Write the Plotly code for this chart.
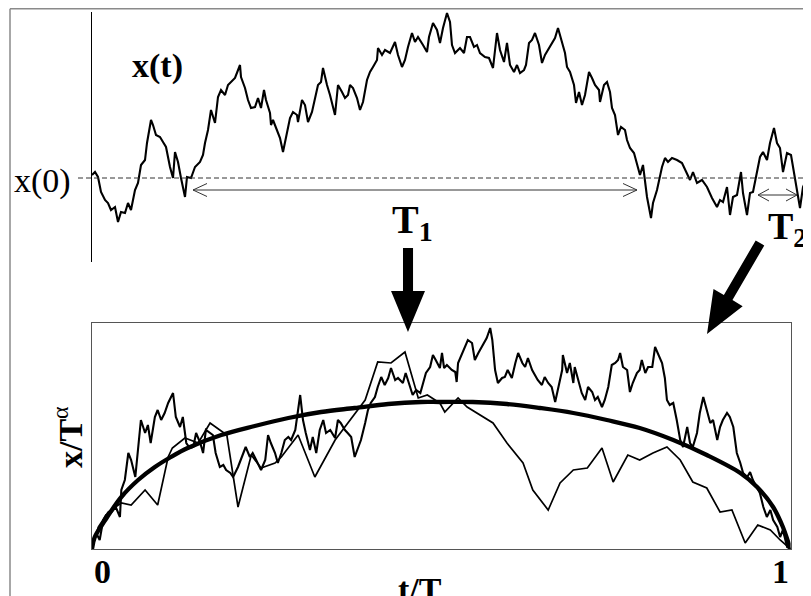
import plotly.graph_objects as go

# the page body adds an 8px margin, so the figure is a bit smaller than the window
OX, OY = 8, 8
W, H = 811 - OX, 596 - OY
FONT = 'Liberation Serif'

# top panel: a single random walk x(t), t in sample steps, x relative to x(0)
top_t = [0, 3, 6, 9, 13, 16, 19, 23, 26, 29, 33, 36, 39, 43, 46, 49, 53, 55, 59, 61,
         64, 68, 71, 74, 78, 81, 83, 86, 89, 93, 95, 99, 103, 108, 111, 113, 116, 119, 123, 126,
         129, 133, 136, 139, 143, 148, 149, 153, 156, 159, 163, 166, 169, 172, 174, 178, 179, 181, 185, 188,
         191, 195, 198, 201, 205, 206, 210, 213, 216, 220, 223, 226, 229, 231, 235, 238, 243, 246, 250, 253,
         256, 258, 261, 265, 268, 271, 275, 278, 281, 285, 286, 290, 293, 298, 303, 306, 310, 313, 316, 320,
         323, 326, 331, 335, 337, 341, 345, 348, 351, 355, 358, 360, 363, 368, 372, 375, 378, 382, 385, 388,
         393, 397, 401, 403, 405, 408, 412, 415, 418, 422, 425, 428, 432, 434, 437, 440, 443, 447, 450, 453,
         457, 460, 463, 466, 469, 473, 475, 478, 482, 484, 487, 490, 493, 497, 500, 503, 507, 508, 512, 515,
         518, 520, 523, 526, 529, 533, 535, 538, 542, 545, 548, 551, 555, 559, 561, 565, 570, 573, 576, 580,
         585, 590, 593, 598, 601, 605, 610, 615, 620, 625, 628, 631, 635, 638, 641, 645, 649, 651, 655, 658,
         661, 665, 668, 671, 675, 678, 682, 685, 688, 691, 695, 699, 703, 708, 711, 715, 719]
top_x = [3, 6, 1, -14, -22, -25, -32, -29, -44, -34, -35, -25, -32, -12, -5, 13, 18, 35, 58, 53,
         43, 41, 36, 31, 11, 0, 26, 16, 0, -19, 1, 0, 11, 16, 23, 35, 48, 68, 55, 81,
         88, 83, 93, 96, 100, 113, 101, 90, 78, 70, 71, 80, 70, 88, 78, 65, 53, 58, 48, 40,
         26, 46, 60, 66, 63, 56, 78, 73, 56, 66, 80, 93, 96, 110, 93, 83, 63, 93, 86, 80,
         83, 93, 90, 80, 68, 76, 98, 106, 111, 118, 130, 123, 128, 125, 136, 123, 111, 118, 131, 145,
         136, 141, 133, 126, 141, 155, 148, 135, 150, 165, 156, 133, 125, 130, 125, 141, 141, 131, 133, 125,
         121, 120, 110, 130, 145, 128, 116, 135, 113, 106, 113, 105, 108, 113, 135, 138, 145, 133, 115, 123,
         130, 136, 140, 150, 140, 125, 111, 106, 93, 75, 86, 73, 83, 106, 100, 93, 88, 76, 93, 96,
         86, 70, 63, 43, 51, 48, 38, 30, 25, 13, 3, 13, -19, -40, -25, -12, 11, 20, 16, 20,
         18, 15, 8, -2, 6, -5, -2, -9, -20, -29, -22, -24, -9, -37, -19, -17, 6, -15, -37, -15,
         -14, 6, 21, 26, 18, 35, 50, 35, 30, 6, 25, 23, 1, -30, -9, 0, 6]

# first-passage intervals marked on the top walk (same units as top_t / top_x)
T1_START, T1_END, T1_LEVEL = 101, 545, -12
T2_START, T2_END, T2_LEVEL = 666, 705, -17

# bottom panel: rescaled excursions against t/T, and the mean shape
shape_t = [0.000, 0.004, 0.019, 0.042, 0.066, 0.090, 0.113, 0.137, 0.185, 0.233, 0.281, 0.328,
           0.376, 0.424, 0.471, 0.498, 0.545, 0.594, 0.641, 0.689, 0.737, 0.784, 0.832, 0.880,
           0.928, 0.952, 0.975, 0.989, 0.996, 1.000]
shape_v = [0, 12, 29, 52, 69, 82, 92, 101, 114, 123, 131, 137,
           141, 145, 147, 147, 147, 145, 141, 136, 129, 121, 109, 94,
           76, 62, 42, 22, 8, 0]

exc1_t = [0.000, 0.006, 0.011, 0.016, 0.020, 0.027, 0.034, 0.040, 0.042, 0.047, 0.052, 0.056, 0.062, 0.066,
          0.070, 0.076, 0.080, 0.084, 0.090, 0.094, 0.099, 0.104, 0.109, 0.116, 0.120, 0.126, 0.130, 0.135,
          0.140, 0.145, 0.149, 0.155, 0.159, 0.163, 0.169, 0.173, 0.177, 0.183, 0.188, 0.192, 0.198, 0.202,
          0.209, 0.213, 0.220, 0.226, 0.230, 0.235, 0.242, 0.248, 0.252, 0.256, 0.262, 0.266, 0.271, 0.276,
          0.281, 0.285, 0.291, 0.298, 0.302, 0.306, 0.312, 0.316, 0.321, 0.326, 0.331, 0.335, 0.341, 0.348,
          0.352, 0.356, 0.362, 0.366, 0.371, 0.376, 0.381, 0.385, 0.391, 0.395, 0.399, 0.405, 0.409, 0.414,
          0.419, 0.424, 0.428, 0.434, 0.438, 0.445, 0.449, 0.455, 0.459, 0.464, 0.470, 0.474, 0.478, 0.484,
          0.488, 0.492, 0.498, 0.501, 0.504, 0.508, 0.515, 0.520, 0.522, 0.524, 0.530, 0.534, 0.538, 0.544,
          0.548, 0.553, 0.558, 0.565, 0.570, 0.573, 0.577, 0.581, 0.587, 0.591, 0.595, 0.601, 0.606, 0.610,
          0.616, 0.620, 0.624, 0.630, 0.634, 0.638, 0.644, 0.648, 0.653, 0.658, 0.663, 0.667, 0.673, 0.674,
          0.680, 0.684, 0.689, 0.691, 0.696, 0.701, 0.706, 0.710, 0.716, 0.720, 0.724, 0.730, 0.734, 0.739,
          0.744, 0.749, 0.753, 0.756, 0.760, 0.766, 0.770, 0.774, 0.780, 0.784, 0.787, 0.792, 0.796, 0.802,
          0.806, 0.810, 0.816, 0.820, 0.823, 0.827, 0.832, 0.837, 0.842, 0.846, 0.852, 0.856, 0.860, 0.866,
          0.870, 0.875, 0.880, 0.885, 0.889, 0.895, 0.899, 0.903, 0.909, 0.913, 0.918, 0.923, 0.928, 0.932,
          0.938, 0.942, 0.946, 0.952, 0.956, 0.961, 0.966, 0.971, 0.975, 0.981, 0.985, 0.989, 0.995, 1.000]
exc1_v = [0, 16, 9, 29, 34, 36, 42, 32, 59, 69, 96, 89, 72, 102,
          129, 116, 124, 106, 132, 139, 129, 136, 146, 156, 132, 122, 132, 106,
          101, 102, 116, 106, 96, 119, 116, 114, 96, 82, 84, 79, 76, 72,
          82, 89, 102, 92, 96, 89, 79, 89, 114, 106, 96, 86, 96, 109,
          112, 109, 119, 154, 129, 116, 99, 112, 96, 119, 129, 116, 119, 111,
          129, 126, 119, 116, 112, 92, 102, 109, 126, 139, 146, 152, 162, 172,
          164, 171, 181, 169, 171, 166, 176, 162, 154, 159, 156, 166, 176, 182,
          194, 189, 181, 196, 181, 184, 179, 177, 167, 186, 196, 202, 209, 206,
          189, 196, 202, 211, 221, 209, 179, 166, 171, 172, 179, 171, 186, 196,
          186, 182, 191, 179, 174, 169, 164, 172, 166, 162, 147, 159, 179, 194,
          176, 186, 166, 182, 169, 156, 149, 162, 157, 149, 152, 142, 149, 162,
          184, 186, 189, 196, 182, 179, 157, 166, 176, 179, 189, 176, 182, 182,
          202, 196, 186, 171, 149, 144, 146, 129, 109, 102, 122, 106, 102, 116,
          136, 152, 139, 126, 129, 109, 122, 129, 136, 132, 122, 96, 86, 76,
          72, 77, 69, 62, 56, 42, 32, 39, 29, 22, 12, 19, 2, 0]

exc2_t = [0.000, 0.009, 0.023, 0.042, 0.056, 0.076, 0.094, 0.109, 0.115, 0.133, 0.152, 0.169, 0.193,
          0.209, 0.228, 0.242, 0.262, 0.271, 0.295, 0.319, 0.348, 0.369, 0.391, 0.409, 0.428, 0.448,
          0.467, 0.480, 0.498, 0.505, 0.524, 0.537, 0.551, 0.574, 0.594, 0.617, 0.631, 0.653, 0.670,
          0.689, 0.709, 0.730, 0.746, 0.767, 0.784, 0.803, 0.823, 0.842, 0.860, 0.880, 0.899, 0.916,
          0.935, 0.953, 0.971, 0.985, 1.000]
exc2_v = [0, 22, 37, 46, 44, 59, 44, 92, 101, 111, 106, 126, 114,
          42, 94, 81, 86, 92, 114, 72, 109, 129, 149, 187, 186, 197,
          151, 154, 146, 137, 151, 142, 136, 126, 106, 86, 59, 39, 66,
          79, 81, 101, 67, 94, 89, 96, 102, 89, 67, 61, 37, 39,
          6, 24, 19, 9, 0]


def pp(x, y):
    """window pixel position -> paper coordinates"""
    return (x - OX) / W, 1 - (y - OY) / H


def poly_path(points):
    coords = []
    for x, y in points:
        px_, py_ = pp(x, y)
        coords.append(f'{px_:.4f},{py_:.4f}')
    return 'M ' + ' L '.join(coords) + ' Z'


def double_arrow(t0, t1, level, head, half):
    return (f'M {t0},{level} L {t1},{level} '
            f'M {t0 + head},{level + half} L {t0},{level} L {t0 + head},{level - half} '
            f'M {t1 - head},{level + half} L {t1},{level} L {t1 - head},{level - half}')


fig = go.Figure()

# top walk
fig.add_trace(go.Scatter(
    x=top_t, y=top_x, mode='lines',
    line=dict(color='black', width=2.1),
    xaxis='x', yaxis='y',
))

# bottom panel curves
fig.add_trace(go.Scatter(
    x=exc2_t, y=exc2_v, mode='lines',
    line=dict(color='black', width=1.7),
    xaxis='x2', yaxis='y2',
))
fig.add_trace(go.Scatter(
    x=exc1_t, y=exc1_v, mode='lines',
    line=dict(color='black', width=2.1),
    xaxis='x2', yaxis='y2',
))
fig.add_trace(go.Scatter(
    x=shape_t, y=shape_v, mode='lines', line_shape='spline',
    line=dict(color='black', width=4.3),
    xaxis='x2', yaxis='y2',
))

frame_x, frame_y = pp(10, 8.8)
shapes = [
    # outer frame
    dict(type='line', xref='paper', yref='paper', x0=frame_x, y0=frame_y, x1=frame_x, y1=0,
         line=dict(color='#8a8a8a', width=1.5)),
    dict(type='line', xref='paper', yref='paper', x0=frame_x, y0=frame_y, x1=1, y1=frame_y,
         line=dict(color='#8a8a8a', width=1.5)),
    # x(0) level
    dict(type='line', xref='paper', yref='y', x0=pp(78, 0)[0], x1=1, y0=0, y1=0,
         line=dict(color='#333', width=1, dash='5px,3px')),
    # first passage intervals
    dict(type='path', xref='x', yref='y',
         path=double_arrow(T1_START, T1_END, T1_LEVEL, 14, 6.5),
         line=dict(color='#333', width=1)),
    dict(type='path', xref='x', yref='y',
         path=double_arrow(T2_START, T2_END, T2_LEVEL, 11, 6),
         line=dict(color='#333', width=1)),
    # big arrows from top to bottom panel
    dict(type='path', xref='paper', yref='paper', fillcolor='black', line=dict(width=0),
         path=poly_path([(403, 248), (413, 248), (413, 291), (425, 291), (408, 332),
                         (391, 291), (403, 291)])),
    dict(type='path', xref='paper', yref='paper', fillcolor='black', line=dict(width=0),
         path=poly_path([(755.7, 240.5), (764.3, 245.5), (732.5, 300.1), (742.7, 306.2),
                         (707, 334), (713.5, 289.0), (723.9, 295.1)])),
]


def label(x, y, text, size, **kw):
    px_, py_ = pp(x, y)
    d = dict(x=px_, y=py_, xref='paper', yref='paper', text=text, showarrow=False,
             font=dict(family=FONT, size=size, color='black'),
             xanchor='center', yanchor='middle')
    d.update(kw)
    return d


annotations = [
    label(157, 66, '<b>x(t)</b>', 34),
    label(42, 181, 'x(0)', 34),
    label(412, 222, '<b>T<sub>1</sub></b>', 40),
    label(787, 229, '<b>T<sub>2</sub></b>', 38),
    label(92, 571, '<b>0</b>', 34, xanchor='left'),
    label(791, 571, '<b>1</b>', 34, xanchor='right'),
    label(420, 589, '<b>t/T</b>', 34),
    label(68, 437, '<b>x/T</b><sup>α</sup>', 34, textangle=-90),
]

axis_off = dict(showgrid=False, zeroline=False, showticklabels=False, ticks='')

fig.update_layout(
    width=W, height=H,
    margin=dict(l=0, r=0, t=0, b=0),
    paper_bgcolor='white',
    plot_bgcolor='white',
    showlegend=False,
    xaxis=dict(domain=[pp(92, 0)[0], 1], range=[0, 719], showline=False, **axis_off),
    yaxis=dict(domain=[pp(0, 262)[1], pp(0, 12)[1]], range=[-84, 166],
               showline=True, linecolor='black', linewidth=1, **axis_off),
    xaxis2=dict(domain=[pp(92, 0)[0], pp(790.6, 0)[0]], range=[0, 1], anchor='y2',
                showline=True, mirror=True, linecolor='#555', linewidth=1, **axis_off),
    yaxis2=dict(domain=[pp(0, 549)[1], pp(0, 323)[1]], range=[0, 226], anchor='x2',
                showline=True, mirror=True, linecolor='#555', linewidth=1, **axis_off),
    shapes=shapes,
    annotations=annotations,
)

fig.write_html('out.html')
